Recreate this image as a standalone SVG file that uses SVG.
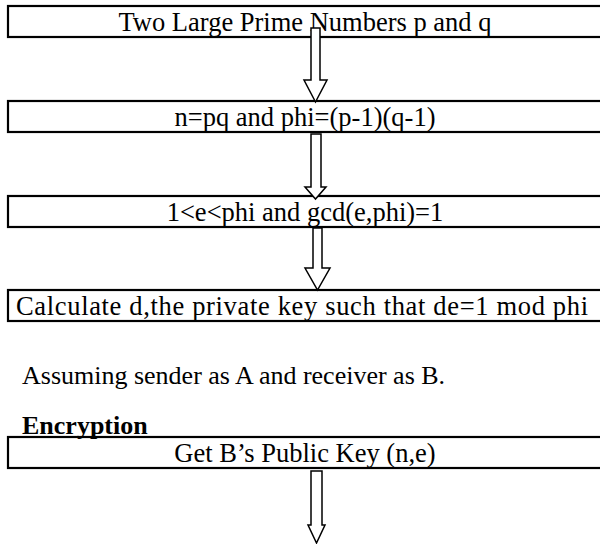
<svg xmlns="http://www.w3.org/2000/svg" width="600" height="544" viewBox="0 0 600 544">
<style>
.box{fill:none;stroke:#000;stroke-width:2.2}
.t{font-family:"Liberation Serif","Times New Roman",serif;font-size:26px;fill:#000}
.bt{font-size:26.5px}
.c{text-anchor:middle}
.b{font-weight:bold}
.arr{fill:#fff;stroke:#000;stroke-width:1.5;stroke-linejoin:miter}
</style>
<rect width="600" height="544" fill="#fff"/>
<g id="node1"><rect class="box" x="8" y="6" width="600" height="31"/><text class="t bt c" x="305" y="31">Two Large Prime Numbers p and q</text></g>
<g id="node2"><rect class="box" x="8" y="101" width="600" height="31"/><text class="t bt c" x="305" y="126">n=pq and phi=(p-1)(q-1)</text></g>
<g id="node3"><rect class="box" x="8" y="196" width="600" height="31"/><text class="t bt c" x="305" y="221">1&lt;e&lt;phi and gcd(e,phi)=1</text></g>
<g id="node4"><rect class="box" x="8" y="290" width="600" height="31"/><text class="t bt" x="16" y="315" textLength="572" lengthAdjust="spacing">Calculate d,the private key such that de=1 mod phi</text></g>
<g id="note"><text class="t" x="22" y="384">Assuming sender as A and receiver as B.</text></g>
<g id="heading"><text class="t b" x="22" y="434">Encryption</text></g>
<g id="node5"><rect class="box" x="8" y="437" width="600" height="31"/><text class="t bt c" x="305" y="462">Get B’s Public Key (n,e)</text></g>
<g id="connectors">
<polygon class="arr" points="311,28 320,28 320,80 327,80 315.5,102 304,80 311,80"/>
<polygon class="arr" points="311,134 321,134 321,187 326,187 315.5,199 305,187 311,187"/>
<polygon class="arr" points="313,228 322,228 322,268 330,268 317.5,290 305,268 313,268"/>
<polygon class="arr" points="311,471 322,471 322,525 325,525 316.5,543 308,525 311,525"/>
</g>
</svg>
